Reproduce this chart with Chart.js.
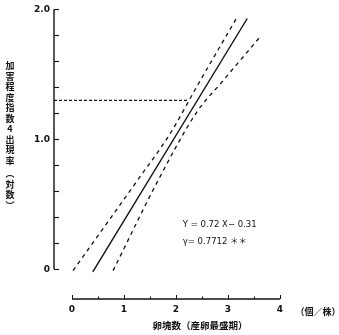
<!DOCTYPE html>
<html>
<head>
<meta charset="utf-8">
<script src="https://cdn.jsdelivr.net/npm/chart.js@4/dist/chart.umd.min.js"></script>
<style>
html,body{margin:0;padding:0;background:#fff;}
#wrap{position:relative;width:339px;height:335px;}
</style>
</head>
<body>
<div id="wrap"><canvas id="c" width="339" height="335"></canvas></div>
<script>
// ---- data ----
const regressionLine = [{x:0.40,y:-0.02},{x:3.37,y:1.93}];
const upperBand = [{x:0.02,y:-0.01},{x:1.25,y:0.68},{x:1.88,y:1.04},{x:2.42,y:1.42},{x:3.19,y:1.95}];
const lowerBand = [{x:0.79,y:-0.01},{x:1.65,y:0.68},{x:2.40,y:1.21},{x:2.88,y:1.44},{x:3.62,y:1.79}];
const readLineY = 1.30;
const readLineXEnd = 2.21;
const xTickValues = [0,0.5,1,1.5,2,2.5,3,3.5,4];
const xTickLabels = {0:'0',1:'1',2:'2',3:'3',4:'4'};
const yTickValues = [0,0.2,0.4,0.6,0.8,1.0,1.2,1.4,1.6,1.8,2.0];
const yTickLabels = {0:'0',1:'1.0',2:'2.0'};
const xMin = -0.346, xMax = 4, yMin = -0.228, yMax = 2.0;
const yTitleChars = ['加','害','程','度','指','数','4','出','現','率','︵','対','数','︶'];
const xTitle = '卵塊数（産卵最盛期）';
const xUnit = '（個／株）';
const eqLine1 = 'Y = 0.72 X− 0.31';
const eqLine2 = 'γ= 0.7712 ＊＊';
const eqPos = {x:2.13, y1:0.34, y2:0.215};

const jp = '"Noto Sans CJK JP", "DejaVu Sans", sans-serif';

const decor = {
  id:'decor',
  afterDraw(chart){
    const ctx = chart.ctx, xs = chart.scales.x, ys = chart.scales.y, a = chart.chartArea;
    ctx.save();
    ctx.strokeStyle = '#111';
    ctx.lineWidth = 1.4;
    // y axis
    const ax = a.left;
    ctx.beginPath();
    ctx.moveTo(ax, ys.getPixelForValue(yMax));
    ctx.lineTo(ax, ys.getPixelForValue(0));
    ctx.stroke();
    ctx.lineWidth = 1.1;
    yTickValues.forEach(v=>{
      const py = Math.round(ys.getPixelForValue(v))+0.5;
      ctx.beginPath(); ctx.moveTo(ax, py); ctx.lineTo(ax+5, py); ctx.stroke();
    });
    // x axis
    const ay = a.bottom;
    ctx.lineWidth = 1.4;
    ctx.beginPath();
    ctx.moveTo(xs.getPixelForValue(0), ay);
    ctx.lineTo(xs.getPixelForValue(4), ay);
    ctx.stroke();
    ctx.lineWidth = 1;
    xTickValues.forEach(v=>{
      const px = Math.round(xs.getPixelForValue(v))+0.5;
      const len = Number.isInteger(v) ? 4 : 2.5;
      ctx.beginPath(); ctx.moveTo(px, ay); ctx.lineTo(px, ay-len); ctx.stroke();
    });
    // y title, vertical upright characters
    ctx.fillStyle = '#111';
    ctx.font = 'bold 9px ' + jp;
    ctx.textAlign = 'center';
    ctx.textBaseline = 'middle';
    const top = 66, step = 10.5;
    yTitleChars.forEach((ch,i)=>{
      const extra = i>=10 ? 3 : 0;
      ctx.fillText(ch, 10, top + i*step + extra);
    });
    // x title and unit
    ctx.font = 'bold 9.5px ' + jp;
    ctx.fillText(xTitle, 200, 325);
    ctx.font = 'bold 9px ' + jp;
    ctx.fillText(xUnit, 318, 312);
    // equation
    ctx.textAlign = 'left';
    ctx.font = '8.5px "DejaVu Sans", "Noto Sans CJK JP", sans-serif';
    const ex = xs.getPixelForValue(eqPos.x);
    ctx.fillText(eqLine1, ex, ys.getPixelForValue(eqPos.y1));
    ctx.fillText(eqLine2, ex, ys.getPixelForValue(eqPos.y2));
    ctx.restore();
  }
};

new Chart(document.getElementById('c'), {
  type:'scatter',
  data:{
    datasets:[
      {data:regressionLine, showLine:true, borderColor:'#111', borderWidth:1.4, pointRadius:0},
      {data:upperBand, showLine:true, borderColor:'#111', borderWidth:1.3, borderDash:[4,4], pointRadius:0, cubicInterpolationMode:'monotone'},
      {data:lowerBand, showLine:true, borderColor:'#111', borderWidth:1.3, borderDash:[4,4], pointRadius:0, cubicInterpolationMode:'monotone'},
      {data:[{x:xMin,y:readLineY},{x:readLineXEnd,y:readLineY}], showLine:true, borderColor:'#111', borderWidth:1.1, borderDash:[3,2], pointRadius:0}
    ]
  },
  options:{
    responsive:false,
    animation:false,
    events:[],
    layout:{padding:{top:6,right:59,bottom:0,left:0}},
    plugins:{legend:{display:false}, tooltip:{enabled:false}},
    scales:{
      x:{
        type:'linear', min:xMin, max:xMax,
        grid:{display:false, drawTicks:false, tickLength:0}, border:{display:false},
        afterBuildTicks(s){ s.ticks = xTickValues.map(v=>({value:v})); },
        afterFit(s){ s.height = 36; },
        ticks:{
          padding:5, autoSkip:false, maxRotation:0, color:'#111',
          font:{family:'"DejaVu Sans", sans-serif', size:9, weight:'bold'},
          callback(v){ return xTickLabels[v] !== undefined ? xTickLabels[v] : ''; }
        }
      },
      y:{
        type:'linear', min:yMin, max:yMax,
        grid:{display:false, drawTicks:false, tickLength:0}, border:{display:false},
        afterBuildTicks(s){ s.ticks = yTickValues.map(v=>({value:v})); },
        afterFit(s){ s.width = 54; },
        ticks:{
          padding:4, autoSkip:false, color:'#111',
          font:{family:'"DejaVu Sans", sans-serif', size:9, weight:'bold'},
          callback(v){ const k = Math.round(v*10)/10; return yTickLabels[k] !== undefined ? yTickLabels[k] : ''; }
        }
      }
    }
  },
  plugins:[decor]
});
</script>
</body>
</html>
